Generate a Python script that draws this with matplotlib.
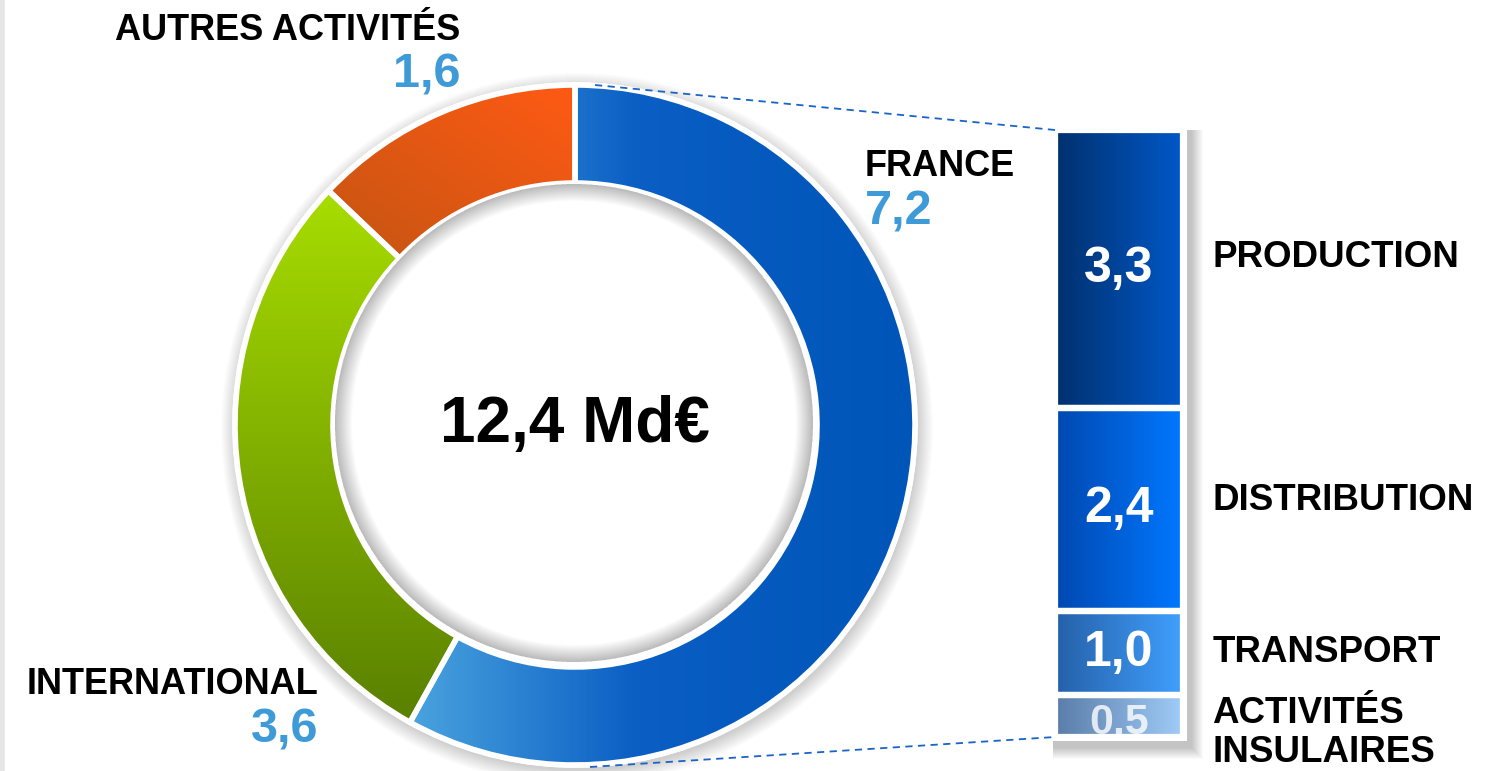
import numpy as np
import matplotlib.pyplot as plt
from matplotlib.colors import LinearSegmentedColormap
from matplotlib.patches import Circle, Rectangle, Wedge
import matplotlib.transforms as mtransforms

plt.rcParams['font.family'] = ['Liberation Sans', 'DejaVu Sans']

# Chiffre d'affaires par segment (Md€)
segments = ['FRANCE', 'INTERNATIONAL', 'AUTRES ACTIVITÉS']
seg_values = [7.2, 3.6, 1.6]
seg_labels = ['7,2', '3,6', '1,6']
total_label = '12,4 Md€'

# detail France
france_parts = ['PRODUCTION', 'DISTRIBUTION', 'TRANSPORT', 'ACTIVITÉS\nINSULAIRES']
france_values = [3.3, 2.4, 1.0, 0.5]
france_labels = ['3,3', '2,4', '1,0', '0,5']

W, H = 1498, 771
fig = plt.figure(figsize=(W / 100, H / 100), dpi=100)
ax = fig.add_axes([0, 0, 1, 1])

blue = LinearSegmentedColormap.from_list('b', [(0, '#4aa3de'), (0.45, '#0a5ec4'), (1, '#0055b8')])
green = LinearSegmentedColormap.from_list('g', ['#5a8000', '#a8dd00'])
orange = LinearSegmentedColormap.from_list('o', ['#c45512', '#ff5a14'])
bar_cmaps = [
    LinearSegmentedColormap.from_list('p', ['#00306e', '#0058c8']),
    LinearSegmentedColormap.from_list('d', ['#0048b0', '#0078ff']),
    LinearSegmentedColormap.from_list('t', ['#2560a8', '#40a0ff']),
    LinearSegmentedColormap.from_list('i', ['#5a7ca8', '#a0ccf8']),
]


def grad_fill(axis, patch, cmap, extent, mode):
    n = 200
    g = np.linspace(0, 1, n)
    X, Y = np.meshgrid(g, g)
    if mode == 'h':
        arr = X
    elif mode == 'v':
        arr = Y
    else:
        arr = (X + Y) / 2
    im = axis.imshow(arr, cmap=cmap, extent=extent, origin='lower', aspect='auto',
                     interpolation='bicubic', zorder=patch.get_zorder() + 0.1)
    im.set_clip_path(patch)
    return im


# donut
cx, cy, r_out, ring = 575, 346, 340, 98
r_in = r_out - ring

# soft shadow outside the ring
for k in range(16, 0, -1):
    ax.add_patch(Circle((cx + 2, cy - 4), r_out + k, fc='black', ec='none', alpha=0.012, zorder=0.5))

wedges, _ = ax.pie(seg_values, radius=r_out, center=(cx, cy), startangle=90, counterclock=False,
                   colors=['#0a5ec4', '#80b000', '#e85814'],
                   wedgeprops=dict(width=ring, edgecolor='white', linewidth=4))
modes = ['h', 'v', 'd']
for w, cm, m in zip(wedges, [blue, green, orange], modes):
    w.set_zorder(1)
    bb = w.get_path().get_extents()
    grad_fill(ax, w, cm, [bb.x0, bb.x1, bb.y0, bb.y1], m)
    ax.add_patch(Wedge(w.center, w.r, w.theta1, w.theta2, width=w.width,
                       fc='none', ec='white', lw=4, zorder=2))

# inner white disc with a soft rim shadow
ax.add_patch(Circle((cx, cy), r_in - 2, fc='white', ec='none', zorder=2.5))
for k in range(1, 18):
    ax.add_patch(Wedge((cx - 1, cy + 2), r_in - 3, 0, 360, width=k, fc='black', ec='none',
                       alpha=0.014, zorder=2.6))

ax.text(cx, cy, total_label, ha='center', va='center', fontsize=46, fontweight='bold', zorder=5)

# segment labels
lab_pos = [(865, H - 167, 'left'), (318, H - 685, 'right'), (460, H - 30, 'right')]
for (x, y, ha), name, val in zip(lab_pos, segments, seg_labels):
    ax.text(x, y, name, ha=ha, va='center', fontsize=26, fontweight='bold', color='black')
    ax.text(x, y - 45, val, ha=ha, va='center', fontsize=35, fontweight='bold', color='#3f9ad8')

# left border
ax.axvline(2, color='#e6e6e6', lw=4)

# detail bar
bx0, bx1, by0, by1 = 1055, 1183, 34, 641

for k in range(12, 0, -1):
    ax.add_patch(Rectangle((bx0 - 2, by0 - 10 - k), bx1 - bx0 + 10 + k, by1 - by0 + 10 + k,
                           fc='black', ec='none', alpha=0.02, zorder=0.5))
ax.add_patch(Rectangle((bx0 - 4, by0 - 4), bx1 - bx0 + 8, by1 - by0 + 8, fc='white', ec='none', zorder=0.8))

# connector lines
ax.plot([cx + 20, bx0], [cy + r_out, by1], ls=(0, (4, 3)), color='#1a64c8', lw=1.3, zorder=3)
ax.plot([cx + 15, bx0], [cy - r_out - 2, by0], ls=(0, (4, 3)), color='#1a64c8', lw=1.3, zorder=3)

ax.set_xlim(0, W)
ax.set_ylim(0, H)
ax.set_aspect('auto')
ax.axis('off')

ax2 = fig.add_axes([bx0 / W, by0 / H, (bx1 - bx0) / W, (by1 - by0) / H])
total_fr = sum(france_values)
bottoms = total_fr - np.cumsum(france_values)
bars = ax2.bar(0, france_values, bottom=bottoms, width=1, color='#0058c8', edgecolor='white', linewidth=4.5)
for b, cm in zip(bars, bar_cmaps):
    b.set_zorder(1)
    grad_fill(ax2, b, cm, [-0.5, 0.5, b.get_y(), b.get_y() + b.get_height()], 'h')
    ax2.add_patch(Rectangle((b.get_x(), b.get_y()), b.get_width(), b.get_height(),
                            fc='none', ec='white', lw=4.5, zorder=2))

trans = mtransforms.blended_transform_factory(ax2.transAxes, ax2.transData)
label_dy = [0.14, 0.11, 0.0, -0.2]
for i, (b, lab, name) in enumerate(zip(bars, france_labels, france_parts)):
    mid = b.get_y() + b.get_height() / 2
    small = i == len(bars) - 1
    ax2.text(0, mid - (0.08 if small else 0), lab, ha='center', va='center',
             fontsize=31 if small else 36, fontweight='bold',
             color='white', alpha=0.8 if small else 1, zorder=5, clip_on=True)
    ax2.text(1.23, mid + label_dy[i], name, transform=trans, ha='left', va='center',
             fontsize=26.5, fontweight='bold', linespacing=1.15, clip_on=False)

ax2.set_xlim(-0.5, 0.5)
ax2.set_ylim(0, total_fr)
ax2.axis('off')

fig.savefig('out.png', dpi=100)
